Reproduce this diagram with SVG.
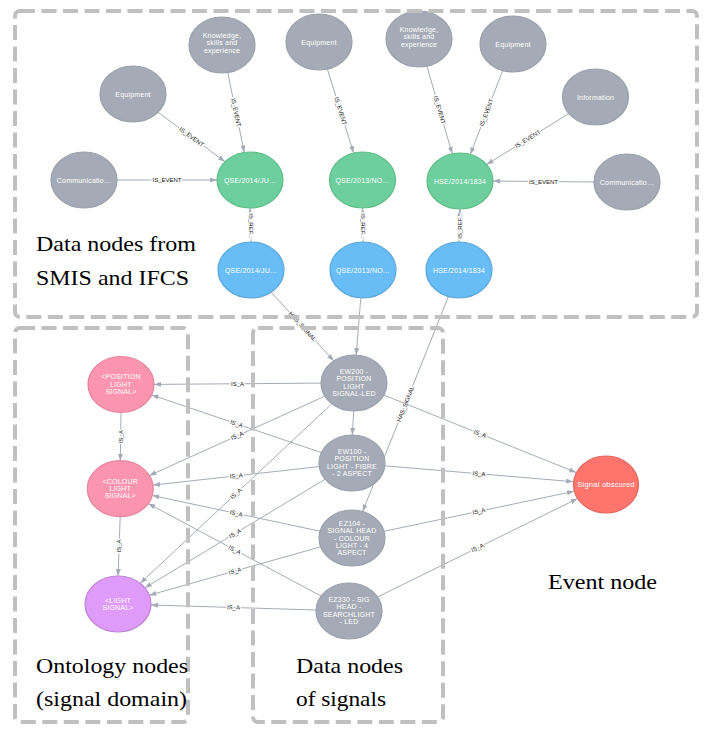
<svg xmlns="http://www.w3.org/2000/svg" width="707" height="729" viewBox="0 0 707 729">
<style>
.n{stroke-width:1.2}
.gray{fill:#a5abb6;stroke:#9aa1ac}
.green{fill:#6dce9e;stroke:#60be86}
.blue{fill:#68bdf6;stroke:#5ca8db}
.pink{fill:#fb95af;stroke:#e4869f}
.purple{fill:#de9bf9;stroke:#bf85d6}
.red{fill:#ff756e;stroke:#e06760}
.nt{font-family:"Liberation Sans",Arial,sans-serif;font-size:7px;letter-spacing:0.2px;fill:#ffffff;text-anchor:middle}
.e{stroke:#a5abb6;stroke-width:1;fill:none;marker-end:url(#arr)}
.el{font-family:"Liberation Sans",Arial,sans-serif;font-size:6px;fill:#111;text-anchor:middle;dominant-baseline:central;stroke:#ffffff;stroke-width:3;paint-order:stroke;stroke-linejoin:round}
.box{fill:none;stroke:#c0c0c0;stroke-width:4;stroke-dasharray:15 6.5}
.big{font-family:"Liberation Serif","Times New Roman",serif;font-size:22px;fill:#000}
</style>
<defs>
<marker id="arr" viewBox="0 0 7 5" refX="7" refY="2.5" markerWidth="7" markerHeight="5" markerUnits="userSpaceOnUse" orient="auto"><path d="M0,0L7,2.5L0,5z" fill="#a5abb6"/></marker>
</defs>
<rect width="707" height="729" fill="#ffffff"/>

<g id="connectors">
<line class="e" x1="158" y1="112.3" x2="225" y2="161.7"/>
<text class="el" transform="translate(191.5,137) rotate(36.3)">IS_EVENT</text>
<line class="e" x1="227.7" y1="72.6" x2="244.3" y2="152.4"/>
<text class="el" transform="translate(236,112.5) rotate(78.3)">IS_EVENT</text>
<line class="e" x1="117" y1="180" x2="217" y2="180"/>
<text class="el" transform="translate(167,180)">IS_EVENT</text>
<line class="e" x1="327.4" y1="69.1" x2="353.6" y2="152.9"/>
<text class="el" transform="translate(340.5,111) rotate(72.7)">IS_EVENT</text>
<line class="e" x1="426.9" y1="66.2" x2="452.2" y2="153.8"/>
<text class="el" transform="translate(439.5,110) rotate(73.9)">IS_EVENT</text>
<line class="e" x1="502.7" y1="70.6" x2="470.3" y2="154.4"/>
<text class="el" transform="translate(486.5,112.5) rotate(-68.9)">IS_EVENT</text>
<line class="e" x1="568.9" y1="113.5" x2="486.6" y2="164.5"/>
<text class="el" transform="translate(527.7,139) rotate(-31.8)">IS_EVENT</text>
<line class="e" x1="594" y1="182" x2="493" y2="181"/>
<text class="el" transform="translate(543.5,181.5)">IS_EVENT</text>

<line class="e" x1="251" y1="242" x2="250" y2="208"/>
<text class="el" transform="translate(250.5,226) rotate(90)">IS_REF...</text>
<line class="e" x1="363" y1="242" x2="362.5" y2="208"/>
<text class="el" transform="translate(362.7,226) rotate(90)">IS_REF...</text>
<line class="e" x1="459" y1="242" x2="460" y2="209"/>
<text class="el" transform="translate(459.5,226) rotate(-90)">IS_REF...</text>

<line class="e" x1="271.2" y1="292.2" x2="333.8" y2="360.9"/>
<text class="el" transform="translate(302.5,326.5) rotate(47.6)">HAS_SIGNAL</text>
<line class="e" x1="360.8" y1="297.9" x2="356.2" y2="355.1"/>
<line class="e" x1="448.4" y1="296.5" x2="362.6" y2="511.5"/>
<text class="el" transform="translate(405.5,404) rotate(-68.2)">HAS_SIGNAL</text>

<line class="e" x1="353.7" y1="411" x2="352.3" y2="435"/>

<line class="e" x1="321" y1="383.1" x2="154" y2="384.4"/>
<text class="el" transform="translate(237.5,383.7)">IS_A</text>
<line class="e" x1="321.4" y1="452.6" x2="151.6" y2="394.9"/>
<text class="el" transform="translate(236.5,423.8) rotate(18.8)">IS_A</text>
<line class="e" x1="324.9" y1="396.2" x2="149.4" y2="475.5"/>
<text class="el" transform="translate(237.1,435.8) rotate(-24.3)">IS_A</text>
<line class="e" x1="319.3" y1="466.6" x2="153" y2="485.1"/>
<text class="el" transform="translate(236.2,475.9) rotate(-6.3)">IS_A</text>
<line class="e" x1="331.8" y1="403.8" x2="140.2" y2="583.3"/>
<text class="el" transform="translate(236,493.5) rotate(-43.1)">IS_A</text>
<line class="e" x1="320" y1="531.2" x2="152.3" y2="495.5"/>
<text class="el" transform="translate(236.2,513.4) rotate(12)">IS_A</text>
<line class="e" x1="321.1" y1="596.1" x2="148.2" y2="503.6"/>
<text class="el" transform="translate(234.7,549.9) rotate(28.1)">IS_A</text>
<line class="e" x1="325.1" y1="479.2" x2="144.9" y2="587.8"/>
<text class="el" transform="translate(235,533.5) rotate(-31.1)">IS_A</text>
<line class="e" x1="320.7" y1="546.8" x2="149.3" y2="595.2"/>
<text class="el" transform="translate(235,571) rotate(-15.8)">IS_A</text>
<line class="e" x1="316" y1="610" x2="151" y2="605"/>
<text class="el" transform="translate(233.5,607.5) rotate(1.7)">IS_A</text>

<line class="e" x1="121" y1="412.5" x2="120.3" y2="460.7"/>
<text class="el" transform="translate(120.7,436.6) rotate(-90)">IS_A</text>
<line class="e" x1="120.2" y1="516.7" x2="118.1" y2="576"/>
<text class="el" transform="translate(119,546) rotate(-90)">IS_A</text>

<line class="e" x1="383.8" y1="395" x2="576.2" y2="472.5"/>
<text class="el" transform="translate(480,433.8) rotate(21.9)">IS_A</text>
<line class="e" x1="384.8" y1="465.8" x2="573.2" y2="481.7"/>
<text class="el" transform="translate(479,473.8) rotate(4.8)">IS_A</text>
<line class="e" x1="384" y1="531.3" x2="574" y2="491.3"/>
<text class="el" transform="translate(479,511.3) rotate(-11.9)">IS_A</text>
<line class="e" x1="377.5" y1="597" x2="577.5" y2="498.6"/>
<text class="el" transform="translate(477.5,547.8) rotate(-26.2)">IS_A</text>
</g>

<g id="n-knowledge1"><ellipse class="n gray" cx="222" cy="45" rx="33" ry="28"/><text class="nt" x="222" y="38">Knowledge,<tspan x="222" dy="7.3">skills and</tspan><tspan x="222" dy="7.3">experience</tspan></text></g>
<g id="n-equipment1"><ellipse class="n gray" cx="133" cy="94" rx="33" ry="28"/><text class="nt" x="133" y="96.5">Equipment</text></g>
<g id="n-communication1"><ellipse class="n gray" cx="84" cy="180" rx="33" ry="28"/><text class="nt" x="84" y="182.5">Communicatio…</text></g>
<g id="n-qse2014-event"><ellipse class="n green" cx="250" cy="180" rx="33" ry="28"/><text class="nt" x="250" y="182.5">QSE/2014/JU…</text></g>
<g id="n-equipment2"><ellipse class="n gray" cx="319" cy="42" rx="33" ry="28"/><text class="nt" x="319" y="44.5">Equipment</text></g>
<g id="n-qse2013-event"><ellipse class="n green" cx="362.5" cy="180" rx="33" ry="28"/><text class="nt" x="362.5" y="182.5">QSE/2013/NO…</text></g>
<g id="n-knowledge2"><ellipse class="n gray" cx="419" cy="39" rx="33" ry="28"/><text class="nt" x="419" y="32">Knowledge,<tspan x="419" dy="7.3">skills and</tspan><tspan x="419" dy="7.3">experience</tspan></text></g>
<g id="n-equipment3"><ellipse class="n gray" cx="513" cy="44" rx="33" ry="28"/><text class="nt" x="513" y="46.5">Equipment</text></g>
<g id="n-information"><ellipse class="n gray" cx="595.5" cy="97" rx="33" ry="28"/><text class="nt" x="595.5" y="99.5">Information</text></g>
<g id="n-communication2"><ellipse class="n gray" cx="627" cy="182" rx="33" ry="28"/><text class="nt" x="627" y="184.5">Communicatio…</text></g>
<g id="n-hse2014-event"><ellipse class="n green" cx="460" cy="181" rx="33" ry="28"/><text class="nt" x="460" y="183.5">HSE/2014/1834</text></g>

<g id="n-qse2014-report"><ellipse class="n blue" cx="251" cy="270" rx="33" ry="28"/><text class="nt" x="251" y="272.5">QSE/2014/JU…</text></g>
<g id="n-qse2013-report"><ellipse class="n blue" cx="363" cy="270" rx="33" ry="28"/><text class="nt" x="363" y="272.5">QSE/2013/NO…</text></g>
<g id="n-hse2014-report"><ellipse class="n blue" cx="459" cy="270" rx="33" ry="28"/><text class="nt" x="459" y="272.5">HSE/2014/1834</text></g>

<g id="n-ew200"><ellipse class="n gray" cx="354" cy="383" rx="33" ry="28"/><text class="nt" x="354" y="374">EW200 -<tspan x="354" dy="7.3">POSITION</tspan><tspan x="354" dy="7.3">LIGHT</tspan><tspan x="354" dy="7.3">SIGNAL-LED</tspan></text></g>
<g id="n-ew100"><ellipse class="n gray" cx="352" cy="463" rx="33" ry="28"/><text class="nt" x="352" y="454">EW100 -<tspan x="352" dy="7.3">POSITION</tspan><tspan x="352" dy="7.3">LIGHT - FIBRE</tspan><tspan x="352" dy="7.3">- 2 ASPECT</tspan></text></g>
<g id="n-ez104"><ellipse class="n gray" cx="352" cy="538" rx="33" ry="28"/><text class="nt" x="352" y="526">EZ104 -<tspan x="352" dy="7.3">SIGNAL HEAD</tspan><tspan x="352" dy="7.3">- COLOUR</tspan><tspan x="352" dy="7.3">LIGHT - 4</tspan><tspan x="352" dy="7.3">ASPECT</tspan></text></g>
<g id="n-ez330"><ellipse class="n gray" cx="349" cy="611" rx="33" ry="28"/><text class="nt" x="349" y="602">EZ330 - SIG<tspan x="349" dy="7.3">HEAD -</tspan><tspan x="349" dy="7.3">SEARCHLIGHT</tspan><tspan x="349" dy="7.3">- LED</tspan></text></g>

<g id="n-position-light-signal"><ellipse class="n pink" cx="121" cy="384.5" rx="33" ry="28"/><text class="nt" x="121" y="379.3">&lt;POSITION<tspan x="121" dy="7.3">LIGHT</tspan><tspan x="121" dy="7.3">SIGNAL&gt;</tspan></text></g>
<g id="n-colour-light-signal"><ellipse class="n pink" cx="120.3" cy="488.7" rx="33" ry="28"/><text class="nt" x="120.3" y="483.5">&lt;COLOUR<tspan x="120.3" dy="7.3">LIGHT</tspan><tspan x="120.3" dy="7.3">SIGNAL&gt;</tspan></text></g>
<g id="n-light-signal"><ellipse class="n purple" cx="118" cy="604" rx="33" ry="28"/><text class="nt" x="118" y="602.8">&lt;LIGHT<tspan x="118" dy="7.3">SIGNAL&gt;</tspan></text></g>

<g id="n-signal-obscured"><ellipse class="n red" cx="606" cy="484.5" rx="32.5" ry="28.5"/><text class="nt" x="606" y="487.2" style="font-size:7.6px">Signal obscured</text></g>

<g id="regions">
<rect class="box" x="15" y="11" width="682" height="306" rx="5"/>
<rect class="box" x="15" y="328" width="173" height="394" rx="5"/>
<rect class="box" x="253" y="328" width="190" height="394" rx="5"/>
</g>

<g id="captions">
<text class="big" x="36" y="251" textLength="160" lengthAdjust="spacingAndGlyphs">Data nodes from</text>
<text class="big" x="36" y="285" textLength="153" lengthAdjust="spacingAndGlyphs">SMIS and IFCS</text>
<text class="big" x="36" y="673" textLength="152" lengthAdjust="spacingAndGlyphs">Ontology nodes</text>
<text class="big" x="36" y="706" textLength="151" lengthAdjust="spacingAndGlyphs">(signal domain)</text>
<text class="big" x="296" y="673" textLength="107" lengthAdjust="spacingAndGlyphs">Data nodes</text>
<text class="big" x="296" y="706" textLength="90" lengthAdjust="spacingAndGlyphs">of signals</text>
<text class="big" x="548" y="589" textLength="109" lengthAdjust="spacingAndGlyphs">Event node</text>
</g>
</svg>
